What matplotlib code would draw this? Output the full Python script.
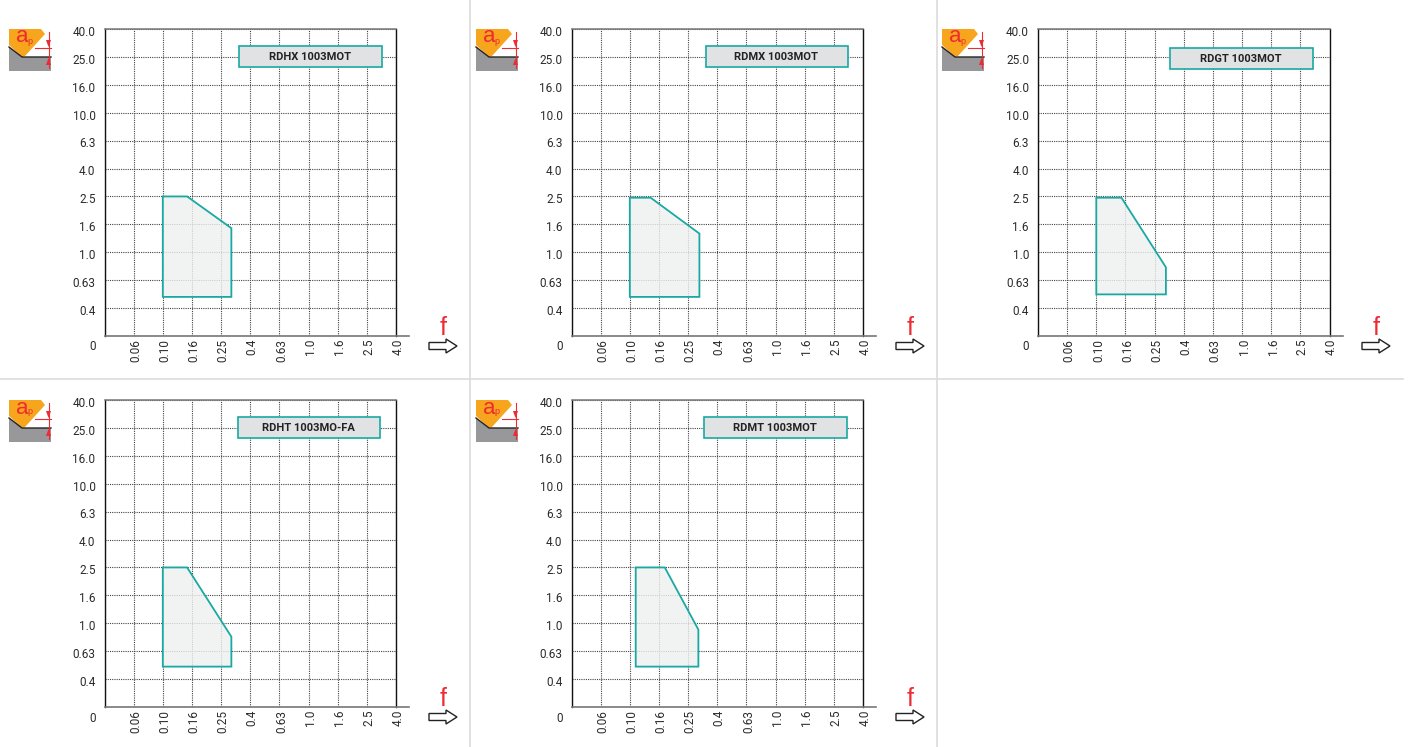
import numpy as np
import matplotlib
matplotlib.use('Agg')
import matplotlib.pyplot as plt
from matplotlib.patches import Polygon, Rectangle
from matplotlib.transforms import ScaledTranslation

plt.rcParams['font.family'] = ['Roboto', 'Liberation Sans', 'DejaVu Sans']

W, H = 1408, 747

# axis values (first one of each sits on the origin and is labelled 0)
f_ticks = [0.0375, 0.06, 0.10, 0.16, 0.25, 0.4, 0.63, 1.0, 1.6, 2.5, 4.0]
f_labels = ['', '0.06', '0.10', '0.16', '0.25', '0.4', '0.63', '1.0', '1.6', '2.5', '4.0']
ap_ticks = [0.25, 0.4, 0.63, 1.0, 1.6, 2.5, 4.0, 6.3, 10.0, 16.0, 25.0, 40.0]
ap_labels = ['', '0.4', '0.63', '1.0', '1.6', '2.5', '4.0', '6.3', '10.0', '16.0', '25.0', '40.0']

names = ['RDHX 1003MOT', 'RDMX 1003MOT', 'RDGT 1003MOT', 'RDHT 1003MO-FA', 'RDMT 1003MOT']

# working areas, f and ap of each corner
f_area = [
    [0.10, 0.148, 0.295, 0.295, 0.10],
    [0.10, 0.14, 0.30, 0.30, 0.10],
    [0.10, 0.15, 0.30, 0.30, 0.10],
    [0.10, 0.148, 0.295, 0.295, 0.10],
    [0.11, 0.175, 0.295, 0.295, 0.11],
]
ap_area = [
    [2.5, 2.5, 1.5, 0.48, 0.48],
    [2.45, 2.45, 1.37, 0.48, 0.48],
    [2.45, 2.45, 0.78, 0.5, 0.5],
    [2.5, 2.5, 0.8, 0.49, 0.49],
    [2.5, 2.5, 0.9, 0.49, 0.49],
]

# left, top of each plot and of its name box in pixels
panel_pos = [(104.5, 29), (571.5, 29), (1038, 29), (104.5, 400), (571.5, 400)]
box_pos = [(239, 46), (705.5, 46), (1170, 48), (237.5, 417), (704, 417)]
icon_pos = [(9, 29), (476, 29), (942, 29), (9, 400), (476, 400)]
arrow_pos = [(429, 346), (896, 346), (1362, 346), (429, 717), (896, 717)]

TEAL = '#19a9a2'
GRID = '#444444'
TXT = '#2b2b2b'
RED = '#ee2a33'


def make_funcs(ticks):
    logs = np.log(ticks)
    idx = np.arange(len(ticks))

    def fwd(v):
        v = np.clip(np.asarray(v, dtype=float), 1e-6, None)
        return np.interp(np.log(v), logs, idx, left=-1, right=len(ticks))

    def inv(p):
        return np.exp(np.interp(p, idx, logs))
    return fwd, inv


fig = plt.figure(figsize=(W / 100, H / 100), dpi=100)

# page layer in pixel units
page = fig.add_axes([0, 0, 1, 1], zorder=5)
page.set_xlim(0, W)
page.set_ylim(H, 0)
page.axis('off')
page.patch.set_alpha(0)

for x in [470, 937]:
    page.plot([x, x], [0, H], color='#dcdcdc', lw=1.2)
page.plot([0, 1403], [379, 379], color='#dcdcdc', lw=1.2)


def draw_icon(x0, y0):
    page.add_patch(Polygon([(x0, y0 + 18), (x0 + 13, y0 + 28), (x0 + 42, y0 + 28),
                            (x0 + 42, y0 + 42), (x0, y0 + 42)], fc='#98989b', ec='none'))
    page.plot([x0, x0 + 13, x0 + 42], [y0 + 18, y0 + 28, y0 + 28], color='#222222', lw=1)
    page.add_patch(Polygon([(x0, y0), (x0 + 32, y0), (x0 + 36, y0 + 5), (x0 + 16, y0 + 27),
                            (x0 + 13, y0 + 28), (x0, y0 + 16)], fc='#f7a51c', ec='none'))
    page.text(x0 + 13, y0 + 8, 'a', color=RED, fontsize=16, ha='center', va='center',
              family=['Liberation Sans', 'DejaVu Sans'])
    page.text(x0 + 21, y0 + 12, 'p', color=RED, fontsize=6.5, ha='center', va='center',
              family=['Liberation Sans', 'DejaVu Sans'])
    page.plot([x0 + 26, x0 + 42], [y0 + 19, y0 + 19], color=RED, lw=0.8)
    page.plot([x0 + 39.5, x0 + 39.5], [y0 + 3, y0 + 39], color=RED, lw=0.8)
    page.add_patch(Polygon([(x0 + 37, y0 + 11), (x0 + 42, y0 + 11), (x0 + 39.5, y0 + 18)], fc=RED, ec='none'))
    page.add_patch(Polygon([(x0 + 37, y0 + 36), (x0 + 42, y0 + 36), (x0 + 39.5, y0 + 29)], fc=RED, ec='none'))


def draw_arrow(x0, y0):
    pts = [(x0, y0 - 3.5), (x0 + 17, y0 - 3.5), (x0 + 17, y0 - 7), (x0 + 28, y0),
           (x0 + 17, y0 + 7), (x0 + 17, y0 + 3.5), (x0, y0 + 3.5)]
    page.add_patch(Polygon(pts, fc='white', ec='#222222', lw=1))
    page.text(x0 + 14, y0 - 18, 'f', color=RED, fontsize=18, ha='center', va='center',
              family=['Liberation Sans', 'DejaVu Sans'])


f_fwd, f_inv = make_funcs(f_ticks)
ap_fwd, ap_inv = make_funcs(ap_ticks)

for i, name in enumerate(names):
    left, top = panel_pos[i]
    ax = fig.add_axes([left / W, 1 - (top + 307) / H, 291.5 / W, 307 / H])
    ax.set_xscale('function', functions=(f_fwd, f_inv))
    ax.set_yscale('function', functions=(ap_fwd, ap_inv))
    ax.set_xlim(f_ticks[0], f_ticks[-1])
    ax.set_ylim(ap_ticks[0], ap_ticks[-1])
    ax.set_xticks(f_ticks)
    ax.set_xticklabels(f_labels, rotation=90, fontsize=8.5, color=TXT)
    ax.set_yticks(ap_ticks)
    ax.set_yticklabels(ap_labels, fontsize=8.5, color=TXT)
    ax.minorticks_off()
    ax.tick_params(length=0, axis='y', pad=6.5)
    ax.tick_params(length=0, axis='x', pad=2)
    for lab in ax.get_yticklabels():
        lab.set_transform(lab.get_transform() + ScaledTranslation(0, -1.3 / 72, fig.dpi_scale_trans))
    for lab in ax.get_xticklabels():
        lab.set_transform(lab.get_transform() + ScaledTranslation(1.5 / 72, 0, fig.dpi_scale_trans))
    ax.grid(True, color=GRID, ls=(0, (1, 1)), lw=0.8)
    ax.set_axisbelow(True)

    ax.fill(f_area[i], ap_area[i], fc='#eef1f0', alpha=0.8, ec='none', zorder=1)
    ax.fill(f_area[i], ap_area[i], fc='none', ec=TEAL, lw=1.3, zorder=3)

    for s in ['left', 'right']:
        ax.spines[s].set_color('#111111')
        ax.spines[s].set_linewidth(1)
    ax.spines['top'].set_color('#777777')
    ax.spines['top'].set_linewidth(1.1)
    ax.spines['bottom'].set_visible(False)

    # base line runs on past the plot
    page.plot([left, left + 304.5], [top + 307, top + 307], color='#777777', lw=1.2)
    page.text(left - 9, top + 318, '0', fontsize=8.5, color=TXT, ha='right', va='center')

    bx, by = box_pos[i]
    page.add_patch(Rectangle((bx, by), 142.5, 21, fc='#e1e2e4', ec=TEAL, lw=1.2))
    page.text(bx + 71, by + 11, name, fontsize=8, fontweight='bold', color='#222222',
              ha='center', va='center')

    draw_icon(*icon_pos[i])
    draw_arrow(*arrow_pos[i])

fig.savefig('out.png', dpi=100)
